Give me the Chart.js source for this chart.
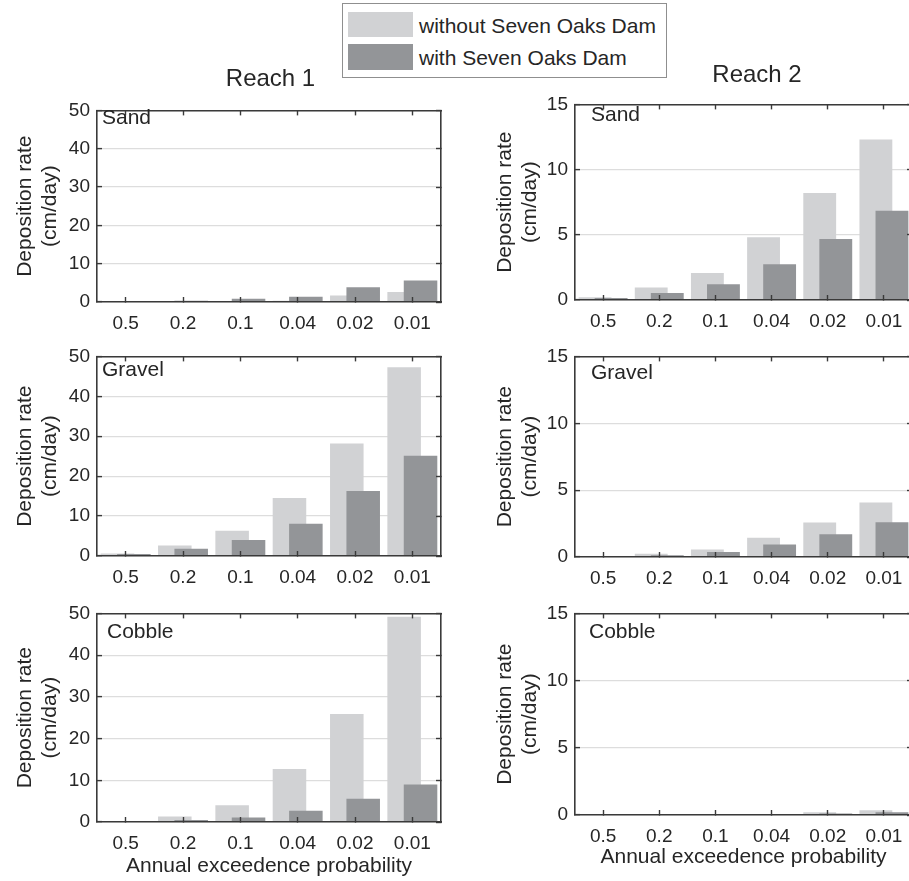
<!DOCTYPE html>
<html><head><meta charset="utf-8">
<script src="https://cdn.jsdelivr.net/npm/chart.js@4.4.1/dist/chart.umd.min.js"></script>
<style>
html,body{margin:0;padding:0;background:#fff;overflow:hidden;}
#wrap{position:relative;width:909px;height:881px;overflow:hidden;background:#fff;font-family:"Liberation Sans",Arial,Helvetica,sans-serif;color:#262626;}
canvas{position:absolute;}
.t{position:absolute;white-space:nowrap;line-height:1;}
</style></head><body><div id="wrap"></div>
<script>
// ---------- data ----------
const probLabels = ['0.5', '0.2', '0.1', '0.04', '0.02', '0.01'];
const seriesNames = ['without Seven Oaks Dam', 'with Seven Oaks Dam'];
const reachNames = ['Reach 1', 'Reach 2'];
const materials = ['Sand', 'Gravel', 'Cobble'];
const yTitle = ['Deposition rate', '(cm/day)'];
const xTitle = 'Annual exceedence probability';
const reach1Ticks = [0, 10, 20, 30, 40, 50];
const reach2Ticks = [0, 5, 10, 15];

const reach1SandWithout   = [0.05, 0.1, 0.2, 0.3, 1.7, 2.6];
const reach1SandWith      = [0.2, 0.35, 0.85, 1.4, 3.85, 5.6];
const reach1GravelWithout = [0.6, 2.6, 6.3, 14.5, 28.2, 47.3];
const reach1GravelWith    = [0.5, 1.8, 4.0, 8.1, 16.3, 25.1];
const reach1CobbleWithout = [0.1, 1.3, 4.0, 12.7, 25.9, 49.2];
const reach1CobbleWith    = [0.1, 0.5, 1.1, 2.7, 5.55, 9.0];

const reach2SandWithout   = [0.22, 0.95, 2.08, 4.82, 8.2, 12.3];
const reach2SandWith      = [0.15, 0.54, 1.2, 2.74, 4.67, 6.85];
const reach2GravelWithout = [0.05, 0.24, 0.57, 1.44, 2.58, 4.07];
const reach2GravelWith    = [0.05, 0.14, 0.38, 0.93, 1.7, 2.6];
const reach2CobbleWithout = [0.01, 0.02, 0.03, 0.07, 0.2, 0.36];
const reach2CobbleWith    = [0.01, 0.01, 0.02, 0.04, 0.12, 0.2];

// ---------- style ----------
const TXT = '#262626', AX = '#3a3a3a', GRID = '#dddddd';
const LIGHT = '#d1d2d4', DARK = '#939598';
const FONT = '"Liberation Sans", Arial, Helvetica, sans-serif';
Chart.defaults.font.family = FONT;
Chart.defaults.color = TXT;

const wrap = document.getElementById('wrap');
function addText(str, size, x, capMid, center) {
  const d = document.createElement('div');
  d.className = 't';
  d.textContent = str;
  d.style.fontSize = size + 'px';
  d.style.top = (capMid - 0.4885 * size) + 'px';
  d.style.left = x + 'px';
  if (center) d.style.transform = 'translateX(-50%)';
  wrap.appendChild(d);
  return d;
}
function addBox(l, t, w, h, css) {
  const d = document.createElement('div');
  d.style.position = 'absolute';
  d.style.left = l + 'px'; d.style.top = t + 'px';
  d.style.width = w + 'px'; d.style.height = h + 'px';
  Object.assign(d.style, css);
  wrap.appendChild(d);
  return d;
}

// legend
addBox(342, 3, 323, 73, {border: '1px solid #8f8f8f', background: '#fff'});
addBox(348, 12, 65, 25, {background: LIGHT});
addBox(348, 44, 65, 26, {background: DARK});
addText(seriesNames[0], 21, 419, 25, false);
addText(seriesNames[1], 21, 419, 57, false);

const columns = [
  {reach: reachNames[0], ticks: reach1Ticks, left: 97, right: 441, yTitlePad: 7.4, xTitlePad: 3.4,
   titleX: 270.5, titleY: 78,
   rows: [
     {top: 102, bottom: 302, lx: 102, ly: 116, without: reach1SandWithout, withDam: reach1SandWith},
     {top: 348, bottom: 556, lx: 102, ly: 368, without: reach1GravelWithout, withDam: reach1GravelWith},
     {top: 605, bottom: 822, lx: 107, ly: 630, without: reach1CobbleWithout, withDam: reach1CobbleWith}
   ]},
  {reach: reachNames[1], ticks: reach2Ticks, left: 575, right: 912, yTitlePad: 9.4, xTitlePad: 5.4,
   titleX: 757, titleY: 74,
   rows: [
     {top: 96, bottom: 300, lx: 591, ly: 113, without: reach2SandWithout, withDam: reach2SandWith},
     {top: 348, bottom: 557, lx: 591, ly: 371.5, without: reach2GravelWithout, withDam: reach2GravelWith},
     {top: 605, bottom: 815, lx: 589, ly: 630, without: reach2CobbleWithout, withDam: reach2CobbleWith}
   ]}
];

const D = 0.143;
const catTicks = s => { s.ticks = probLabels.map((p, i) => ({value: i + 1})); };

function makeChart(col, row, showXTitle) {
  const YW = 92, PT = 15, PR = 10, XH = showXTitle ? 60 : 36;
  const plotW = col.right - col.left, plotH = row.bottom - row.top;
  const W = YW + plotW + PR, H = PT + plotH + XH;
  const cv = document.createElement('canvas');
  cv.width = W; cv.height = H;
  cv.style.width = W + 'px'; cv.style.height = H + 'px';
  cv.style.left = (col.left - YW) + 'px';
  cv.style.top = (row.top - PT) + 'px';
  wrap.appendChild(cv);
  const ticks = col.ticks;
  const yMax = ticks[ticks.length - 1];
  const yTicks = s => { s.ticks = ticks.map(v => ({value: v})); };
  new Chart(cv, {
    type: 'bar',
    data: {
      datasets: [
        {label: seriesNames[0], data: row.without.map((v, i) => ({x: i + 1, y: v})),
         xAxisID: 'xa', yAxisID: 'y', backgroundColor: LIGHT, order: 1},
        {label: seriesNames[1], data: row.withDam.map((v, i) => ({x: i + 1, y: v})),
         xAxisID: 'xb', yAxisID: 'y', backgroundColor: DARK, order: 0}
      ]
    },
    options: {
      responsive: false, animation: false, devicePixelRatio: 1,
      layout: {padding: {top: PT, right: PR, left: 0, bottom: 0}},
      plugins: {legend: {display: false}, tooltip: {enabled: false}, title: {display: false}},
      datasets: {bar: {grouped: false, barPercentage: 0.585, categoryPercentage: 1, borderWidth: 0}},
      scales: {
        x: {type: 'linear', position: 'bottom', min: 0.5, max: 6.5, offset: false, afterBuildTicks: catTicks,
            ticks: {autoSkip: false, maxRotation: 0, minRotation: 0, padding: 15, font: {size: 19}, color: TXT,
                    callback: v => probLabels[Math.round(v) - 1]},
            grid: {drawOnChartArea: false, drawTicks: true, tickLength: -5, tickColor: AX, tickWidth: 1.4, offset: false, z: 1},
            border: {display: true, color: AX, width: 1.6, z: 1},
            title: {display: showXTitle, text: xTitle, font: {size: 21, lineHeight: 1.2}, color: TXT,
                    padding: {top: 0, bottom: col.xTitlePad}},
            afterFit: s => { s.height = XH; }},
        xt: {type: 'linear', position: 'top', min: 0.5, max: 6.5, offset: false, afterBuildTicks: catTicks,
             ticks: {display: false},
             grid: {drawOnChartArea: false, drawTicks: true, tickLength: -5, tickColor: AX, tickWidth: 1.4, offset: false, z: 1},
             border: {display: true, color: AX, width: 1.6, z: 1},
             afterFit: s => { s.height = 0; }},
        xa: {type: 'linear', display: false, min: 0.5 + D, max: 6.5 + D, offset: false, afterBuildTicks: catTicks,
             grid: {offset: false}},
        xb: {type: 'linear', display: false, min: 0.5 - D, max: 6.5 - D, offset: false, afterBuildTicks: catTicks,
             grid: {offset: false}},
        y: {type: 'linear', position: 'left', min: 0, max: yMax, afterBuildTicks: yTicks,
            ticks: {font: {size: 19}, color: TXT, padding: 12},
            grid: {color: GRID, lineWidth: 1.2, drawTicks: true, tickLength: -5, tickColor: AX, tickWidth: 1.4},
            border: {display: true, color: AX, width: 1.6, z: 1},
            title: {display: true, text: yTitle, font: {size: 21, lineHeight: 1.2}, color: TXT,
                    padding: {top: col.yTitlePad, bottom: 0}},
            afterFit: s => { s.width = YW; }},
        yr: {type: 'linear', position: 'right', min: 0, max: yMax, afterBuildTicks: yTicks,
             ticks: {display: false},
             grid: {drawOnChartArea: false, drawTicks: true, tickLength: -5, tickColor: AX, tickWidth: 1.4, z: 1},
             border: {display: true, color: AX, width: 1.6, z: 1},
             afterFit: s => { s.width = 0; }}
      }
    }
  });
}

columns.forEach(col => {
  col.rows.forEach((row, ri) => {
    makeChart(col, row, ri === col.rows.length - 1);
    addText(materials[ri], 21, row.lx, row.ly, false);
  });
  addText(col.reach, 24, col.titleX, col.titleY, true);
});
</script>
</body></html>
